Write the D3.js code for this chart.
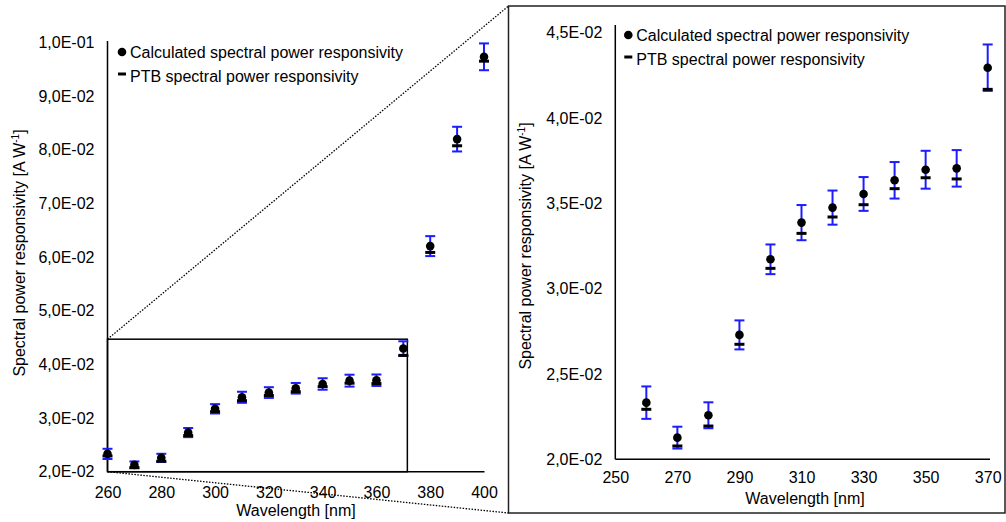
<!DOCTYPE html>
<html>
<head>
<meta charset="utf-8">
<script src="https://cdn.jsdelivr.net/npm/d3@7"></script>
<style>
  html, body { margin: 0; padding: 0; background: #fff; }
  svg text { font-family: "Liberation Sans", Arial, sans-serif; fill: #000; }
</style>
</head>
<body>
<svg id="chart" width="1006" height="522"></svg>
<script>
// wavelengths [nm]
const wavelength = [260, 270, 280, 290, 300, 310, 320, 330, 340, 350, 360, 370, 380, 390, 400];
// calculated spectral power responsivity [A/W]
const calculated = [0.02332, 0.02127, 0.02258, 0.02729, 0.03172, 0.03387, 0.03475, 0.03555, 0.03635, 0.03697, 0.03705, 0.04295, 0.06205, 0.08199, 0.09733];
// PTB reference values [A/W]
const ptb = [0.02293, 0.02078, 0.02195, 0.02674, 0.03119, 0.03324, 0.03420, 0.03492, 0.03586, 0.03650, 0.03643, 0.04168, 0.06087, 0.08075, 0.09652];
// uncertainty (half length of error bar) on calculated values
const uncertainty = [0.00095, 0.00064, 0.00076, 0.00085, 0.00087, 0.00103, 0.00100, 0.00099, 0.00107, 0.00111, 0.00107, 0.00136, 0.00186, 0.00230, 0.00250];

const xTicksLeft = [260, 280, 300, 320, 340, 360, 380, 400];
const yTicksLeft = [0.02, 0.03, 0.04, 0.05, 0.06, 0.07, 0.08, 0.09, 0.10];
const yLabelsLeft = ["2,0E-02", "3,0E-02", "4,0E-02", "5,0E-02", "6,0E-02", "7,0E-02", "8,0E-02", "9,0E-02", "1,0E-01"];
const xTicksRight = [250, 270, 290, 310, 330, 350, 370];
const yTicksRight = [0.02, 0.025, 0.03, 0.035, 0.04, 0.045];
const yLabelsRight = ["2,0E-02", "2,5E-02", "3,0E-02", "3,5E-02", "4,0E-02", "4,5E-02"];

const legendLabels = ["Calculated spectral power responsivity", "PTB spectral power responsivity"];

// zoomed area shown on the right
const zoomX = [260, 371.5];
const zoomY = [0.02, 0.0447];

const data = wavelength.map((w, i) => ({w, calc: calculated[i], ptb: ptb[i], u: uncertainty[i]}));

const svg = d3.select("#chart");
const blue = "#1c1cff";

function drawPanel(g, opt) {
  const {x, y, pts, yTicks, yLabels, xTicks, axisTop, axisRight, xPad, xTitle, yTitle, legend} = opt;
  const x0 = x.range()[0], y0 = y.range()[0];

  // axis lines
  g.append("line").attr("x1", x0).attr("x2", x0).attr("y1", y0).attr("y2", axisTop)
    .attr("stroke", "#000").attr("stroke-width", 1.5);
  g.append("line").attr("x1", x0).attr("x2", axisRight).attr("y1", y0).attr("y2", y0)
    .attr("stroke", "#000").attr("stroke-width", 1.5);

  const ya = g.append("g").attr("transform", `translate(${x0},0)`)
    .call(d3.axisLeft(y).tickValues(yTicks).tickSize(0).tickPadding(13)
      .tickFormat((d, i) => yLabels[i]));
  const xa = g.append("g").attr("transform", `translate(0,${y0})`)
    .call(d3.axisBottom(x).tickValues(xTicks).tickSize(0).tickPadding(xPad).tickFormat(d3.format("d")));
  [ya, xa].forEach(a => {
    a.select(".domain").remove();
    a.selectAll("text").attr("font-size", 16).attr("font-family", null).attr("fill", "#000");
  });

  // error bars
  const eb = g.append("g").attr("stroke", blue).attr("stroke-width", 2);
  pts.forEach(d => {
    const cx = x(d.w), t = y(d.calc + d.u), b = y(d.calc - d.u);
    eb.append("line").attr("x1", cx).attr("x2", cx).attr("y1", t).attr("y2", b);
    eb.append("line").attr("x1", cx - 5).attr("x2", cx + 5).attr("y1", t).attr("y2", t);
    eb.append("line").attr("x1", cx - 5).attr("x2", cx + 5).attr("y1", b).attr("y2", b);
  });

  // PTB dashes
  g.append("g").selectAll("line").data(pts).join("line")
    .attr("x1", d => x(d.w) - 5).attr("x2", d => x(d.w) + 5)
    .attr("y1", d => y(d.ptb)).attr("y2", d => y(d.ptb))
    .attr("stroke", "#000").attr("stroke-width", 3);

  // calculated dots
  g.append("g").selectAll("circle").data(pts).join("circle")
    .attr("cx", d => x(d.w)).attr("cy", d => y(d.calc)).attr("r", 4.3).attr("fill", "#000");

  // axis titles
  g.append("text").attr("x", xTitle[0]).attr("y", xTitle[1]).attr("text-anchor", "middle")
    .attr("font-size", 16).text("Wavelength [nm]");
  const yt = g.append("text").attr("text-anchor", "middle").attr("font-size", 16)
    .attr("transform", `translate(${yTitle[0]},${yTitle[1]}) rotate(-90)`);
  yt.append("tspan").text("Spectral power responsivity [A W");
  yt.append("tspan").attr("font-size", 10).attr("dy", -6).text("-1");
  yt.append("tspan").attr("dy", 6).text("]");

  // legend
  const lx = legend[0], ly = legend[1];
  g.append("circle").attr("cx", lx).attr("cy", ly).attr("r", 4.3).attr("fill", "#000");
  g.append("line").attr("x1", lx - 4).attr("x2", lx + 4).attr("y1", ly + 22).attr("y2", ly + 22)
    .attr("stroke", "#000").attr("stroke-width", 3);
  legendLabels.forEach((t, i) => {
    g.append("text").attr("x", lx + 8).attr("y", ly + 6 + i * 24).attr("font-size", 16).text(t);
  });
}

// left: full range
const xL = d3.scaleLinear().domain([260, 400]).range([107.5, 484]);
const yL = d3.scaleLinear().domain([0.02, 0.10]).range([471.7, 42.5]);

// right: zoomed range
const xR = d3.scaleLinear().domain([250, 370]).range([615.3, 987.7]);
const yR = d3.scaleLinear().domain([0.02, 0.045]).range([459.3, 32.7]);

// right panel frame
const frame = {x0: 508.5, y0: 6, x1: 1005, y1: 513};
svg.append("rect").attr("x", frame.x0).attr("y", frame.y0)
  .attr("width", frame.x1 - frame.x0).attr("height", frame.y1 - frame.y0)
  .attr("fill", "none").attr("stroke", "#222").attr("stroke-width", 1.5);

// zoom rectangle on left chart and connectors
svg.append("rect").attr("x", xL(zoomX[0])).attr("y", yL(zoomY[1]))
  .attr("width", xL(zoomX[1]) - xL(zoomX[0])).attr("height", yL(zoomY[0]) - yL(zoomY[1]))
  .attr("fill", "none").attr("stroke", "#000").attr("stroke-width", 1.5);
svg.append("line").attr("x1", xL(zoomX[0])).attr("y1", yL(zoomY[1]))
  .attr("x2", frame.x0).attr("y2", frame.y0)
  .attr("stroke", "#000").attr("stroke-width", 1.3).attr("stroke-dasharray", "1.5,1.5");
svg.append("line").attr("x1", xL(zoomX[0])).attr("y1", yL(zoomY[0]))
  .attr("x2", frame.x0).attr("y2", frame.y1)
  .attr("stroke", "#000").attr("stroke-width", 1.3).attr("stroke-dasharray", "1.5,1.5");

drawPanel(svg.append("g"), {
  x: xL, y: yL, pts: data,
  yTicks: yTicksLeft, yLabels: yLabelsLeft, xTicks: xTicksLeft,
  axisTop: 41, axisRight: 484.5, xPad: 14.5,
  xTitle: [296, 516], yTitle: [25, 253], legend: [122, 52]
});

drawPanel(svg.append("g"), {
  x: xR, y: yR, pts: data.filter(d => d.w <= 370),
  yTicks: yTicksRight, yLabels: yLabelsRight, xTicks: xTicksRight,
  axisTop: 25, axisRight: 990, xPad: 12.3,
  xTitle: [805, 504], yTitle: [531, 246], legend: [628.3, 35]
});
</script>
</body>
</html>
